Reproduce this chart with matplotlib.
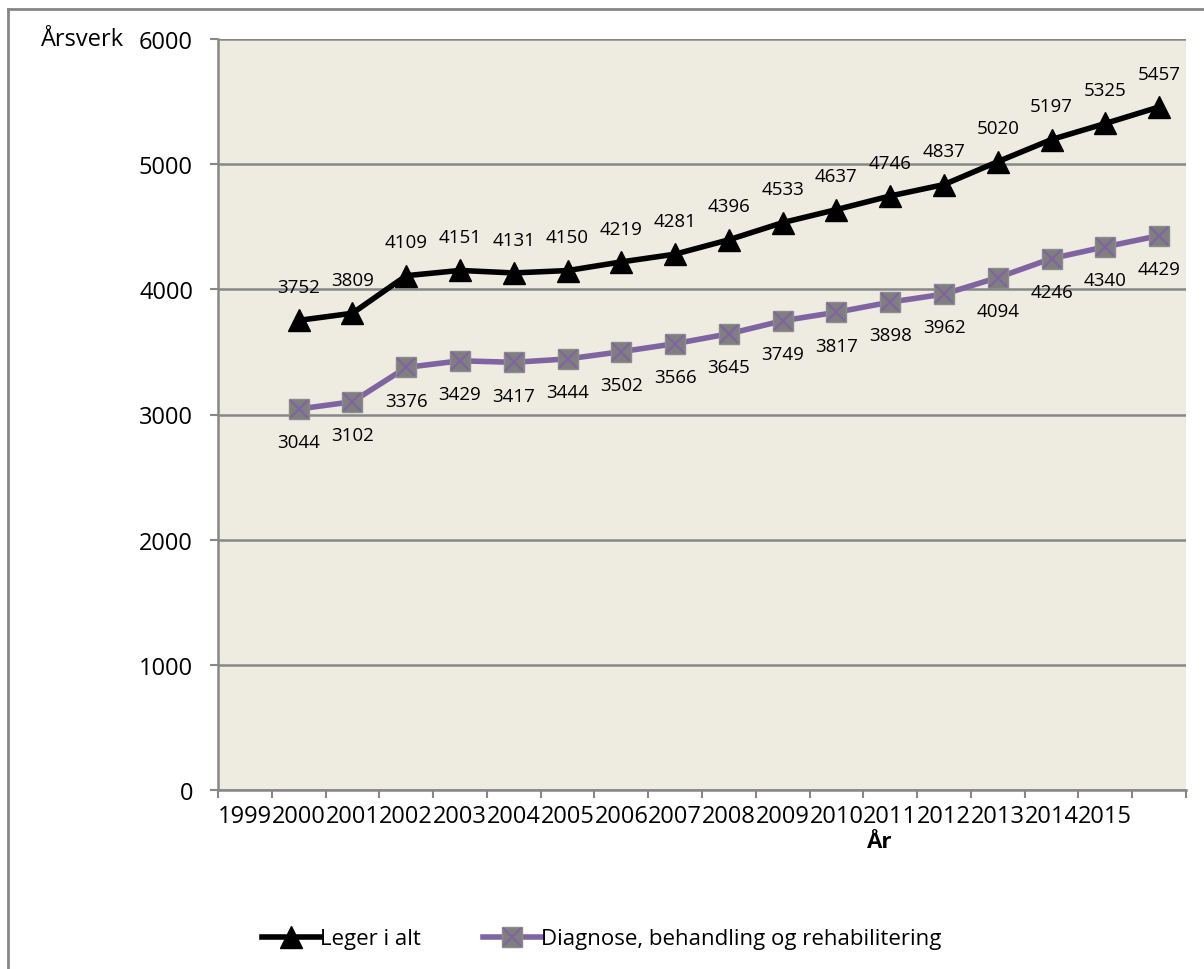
import matplotlib.pyplot as plt
from matplotlib.legend_handler import HandlerTuple
from matplotlib.lines import Line2D

plt.rcParams["font.family"] = ["Open Sans", "DejaVu Sans"]

years = ["1999", "2000", "2001", "2002", "2003", "2004", "2005", "2006", "2007",
         "2008", "2009", "2010", "2011", "2012", "2013", "2014", "2015"]
leger = [3752, 3809, 4109, 4151, 4131, 4150, 4219, 4281, 4396,
         4533, 4637, 4746, 4837, 5020, 5197, 5325, 5457]
diagnose = [3044, 3102, 3376, 3429, 3417, 3444, 3502, 3566, 3645,
            3749, 3817, 3898, 3962, 4094, 4246, 4340, 4429]

bg = "#EEECE1"
purple = "#8064A2"
grid_col = "#878787"

fig = plt.figure(figsize=(12.04, 9.70), dpi=100)
ax = fig.add_axes([218 / 1204, 1 - 791 / 970, (1186 - 218) / 1204, (791 - 40) / 970])
ax.set_facecolor(bg)

# series sit one slot to the right of their year labels
n_slots = len(years) + 1
xs = list(range(1, n_slots))

ax.plot(xs, leger, color="black", lw=4, marker="^", ms=16,
        mfc="black", mec="black", zorder=4)
ax.plot(xs, diagnose, color=purple, lw=4, zorder=3)
ax.plot(xs, diagnose, ls="none", marker="s", ms=15, mfc="#7F7F7F",
        mec="#8C8C8C", mew=1, zorder=4)
ax.plot(xs, diagnose, ls="none", marker="x", ms=13, mec=purple, mew=1.6, zorder=5)

for x, v in zip(xs, leger):
    ax.annotate(str(v), (x, v), xytext=(0, 24), textcoords="offset points",
                ha="center", va="center", fontsize=13.5)
for x, v in zip(xs, diagnose):
    ax.annotate(str(v), (x, v), xytext=(0, -24), textcoords="offset points",
                ha="center", va="center", fontsize=13.5)

ax.set_xlim(-0.5, n_slots - 0.5)
ax.set_ylim(0, 6000)
ax.set_yticks(range(0, 6001, 1000))
ax.yaxis.grid(True, color=grid_col, lw=1.8)
ax.set_axisbelow(True)

# boundary ticks without labels, year labels on minor ticks
ax.set_xticks([i - 0.5 for i in range(n_slots + 1)])
ax.set_xticklabels([])
ax.set_xticks(range(len(years)), minor=True)
ax.set_xticklabels(years, minor=True, fontsize=17)
ax.tick_params(axis="x", which="minor", length=0, pad=10)
ax.tick_params(axis="x", which="major", length=6, width=1.5, color=grid_col)
ax.tick_params(axis="y", length=6, width=1.5, color=grid_col, pad=12, labelsize=17)

for s in ["top", "right"]:
    ax.spines[s].set_visible(False)
for s in ["left", "bottom"]:
    ax.spines[s].set_color(grid_col)
    ax.spines[s].set_linewidth(1.8)

fig.text(41 / 1204, 1 - 40 / 970, "Årsverk", fontsize=17, ha="left", va="center")
fig.text(880 / 1204, 1 - 843 / 970, "År", fontsize=16, fontweight="bold",
         ha="center", va="center")

# outer frame
fig.add_artist(Line2D([8 / 1204, 8 / 1204], [0, 1 - 10 / 970], color=grid_col, lw=2,
                      transform=fig.transFigure))
fig.add_artist(Line2D([8 / 1204, 1], [1 - 10 / 970, 1 - 10 / 970], color=grid_col, lw=2,
                      transform=fig.transFigure))

h1 = Line2D([], [], color="black", lw=4, marker="^", ms=16, mfc="black")
h2a = Line2D([], [], color=purple, lw=4, marker="s", ms=15, mfc="#7F7F7F", mec="#8C8C8C")
h2b = Line2D([], [], ls="none", marker="x", ms=13, mec=purple, mew=1.6)
fig.legend([h1, (h2a, h2b)], ["Leger i alt", "Diagnose, behandling og rehabilitering"],
           handler_map={tuple: HandlerTuple(ndivide=1, pad=0)},
           loc="center", bbox_to_anchor=(602 / 1204, 1 - 940 / 970), ncol=2,
           frameon=False, fontsize=16, handlelength=2.6, handletextpad=0.0,
           columnspacing=2.8)

fig.savefig("out.png", dpi=100, facecolor="white")
